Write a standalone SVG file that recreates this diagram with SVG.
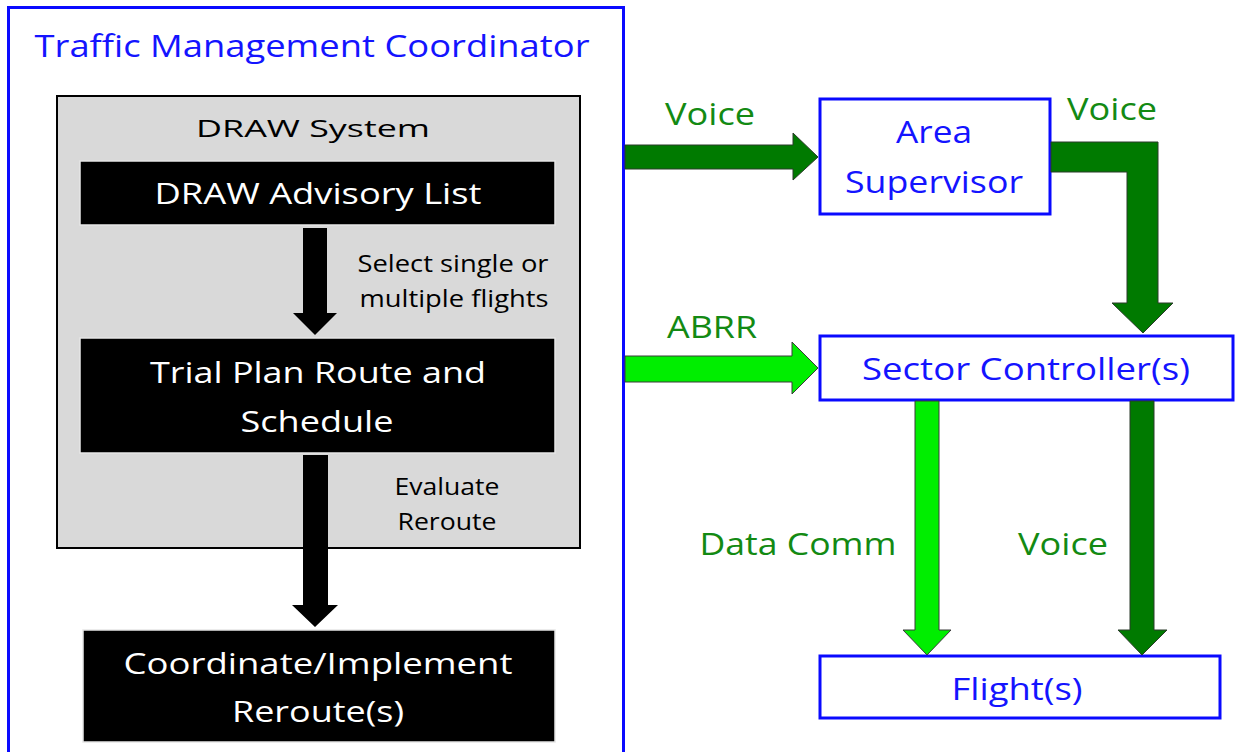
<svg xmlns="http://www.w3.org/2000/svg" width="1235" height="752" viewBox="0 0 1235 752">
  <style>
    text { font-family: "Open Sans", "Liberation Sans", sans-serif; }
    .blue-box { fill: #ffffff; stroke: #0a0aff; stroke-width: 3; }
    .blue-txt { fill: #1414ff; font-size: 31px; text-anchor: middle; }
    .dark-box { fill: #000000; stroke: #e6e6e6; stroke-width: 1.5; }
    .white-txt { fill: #ffffff; font-size: 30px; text-anchor: middle; }
    .note { fill: #000000; font-size: 23px; text-anchor: middle; }
    .green-txt { fill: #138a13; font-size: 31px; text-anchor: middle; }
    .arrow-black { fill: #000000; }
    .arrow-dark { fill: #007a00; stroke: #2a3a2a; stroke-width: 1; }
    .arrow-light { fill: #00ee00; stroke: #3a3a3a; stroke-width: 1; }
  </style>

  <rect width="1235" height="752" fill="#ffffff"/>

  <!-- Traffic Management Coordinator container -->
  <g id="tmc">
    <rect class="blue-box" x="8.5" y="7.5" width="615" height="760"/>
    <text class="blue-txt" x="312" y="57" font-size="33" textLength="555" lengthAdjust="spacingAndGlyphs">Traffic Management Coordinator</text>
  </g>

  <!-- DRAW System panel -->
  <g id="draw-system">
    <rect x="57" y="96" width="523" height="452" fill="#d9d9d9" stroke="#000000" stroke-width="2"/>
    <text class="note" x="313" y="137" font-size="29" textLength="234" lengthAdjust="spacingAndGlyphs">DRAW System</text>
  </g>

  <g id="advisory-list">
    <rect class="dark-box" x="80" y="161" width="475" height="64"/>
    <text class="white-txt" x="318" y="204" textLength="327" lengthAdjust="spacingAndGlyphs">DRAW Advisory List</text>
  </g>

  <g id="trial-plan">
    <rect class="dark-box" x="80" y="338" width="475" height="115"/>
    <text class="white-txt" x="318" y="383" textLength="336" lengthAdjust="spacingAndGlyphs">Trial Plan Route and</text>
    <text class="white-txt" x="317" y="432" textLength="153" lengthAdjust="spacingAndGlyphs">Schedule</text>
  </g>

  <g id="coordinate">
    <rect class="dark-box" x="83" y="630" width="472" height="112"/>
    <text class="white-txt" x="318" y="674" textLength="389" lengthAdjust="spacingAndGlyphs">Coordinate/Implement</text>
    <text class="white-txt" x="318" y="722" textLength="172" lengthAdjust="spacingAndGlyphs">Reroute(s)</text>
  </g>

  <g id="area-supervisor">
    <rect class="blue-box" x="820" y="99" width="230" height="115"/>
    <text class="blue-txt" x="934" y="143" textLength="76" lengthAdjust="spacingAndGlyphs">Area</text>
    <text class="blue-txt" x="934" y="193" textLength="178" lengthAdjust="spacingAndGlyphs">Supervisor</text>
  </g>

  <g id="sector-controller">
    <rect class="blue-box" x="820" y="336" width="413" height="64"/>
    <text class="blue-txt" x="1026" y="380" textLength="328" lengthAdjust="spacingAndGlyphs">Sector Controller(s)</text>
  </g>

  <g id="flights">
    <rect class="blue-box" x="820" y="656" width="400" height="62"/>
    <text class="blue-txt" x="1017" y="700" textLength="131" lengthAdjust="spacingAndGlyphs">Flight(s)</text>
  </g>

  <!-- Connectors -->
  <g id="connectors">
    <!-- advisory list to trial plan -->
    <polygon class="arrow-black" points="303,228 327,228 327,313 337,313 315,335 293,313 303,313"/>
    <text class="note" x="453" y="272" textLength="191" lengthAdjust="spacingAndGlyphs">Select single or</text>
    <text class="note" x="454" y="307" textLength="189" lengthAdjust="spacingAndGlyphs">multiple flights</text>

    <!-- trial plan to coordinate -->
    <polygon class="arrow-black" points="303,455 328,455 328,605 338,605 315,627 292,605 303,605"/>
    <text class="note" x="447" y="495" textLength="105" lengthAdjust="spacingAndGlyphs">Evaluate</text>
    <text class="note" x="447" y="530" textLength="99" lengthAdjust="spacingAndGlyphs">Reroute</text>

    <!-- voice: coordinator to area supervisor -->
    <polygon class="arrow-dark" points="625,145 793,145 793,133 818,157 793,180 793,169 625,169"/>
    <text class="green-txt" x="710" y="125" textLength="90" lengthAdjust="spacingAndGlyphs">Voice</text>

    <!-- voice: area supervisor to sector controller -->
    <polygon class="arrow-dark" points="1051,142 1158,142 1158,303 1173,303 1143,333 1112,303 1127,303 1127,172 1051,172"/>
    <text class="green-txt" x="1112" y="120" textLength="90" lengthAdjust="spacingAndGlyphs">Voice</text>

    <!-- ABRR: coordinator to sector controller -->
    <polygon class="arrow-light" points="625,356 792,356 792,342 818,368 792,394 792,382 625,382"/>
    <text class="green-txt" x="712" y="338" textLength="90" lengthAdjust="spacingAndGlyphs">ABRR</text>

    <!-- data comm: sector controller to flights -->
    <polygon class="arrow-light" points="915,401 939,401 939,630 951,630 927,655 903,630 915,630"/>
    <text class="green-txt" x="798" y="555" textLength="197" lengthAdjust="spacingAndGlyphs">Data Comm</text>

    <!-- voice: sector controller to flights -->
    <polygon class="arrow-dark" points="1130,401 1154,401 1154,630 1167,630 1142,655 1118,630 1130,630"/>
    <text class="green-txt" x="1063" y="555" textLength="90" lengthAdjust="spacingAndGlyphs">Voice</text>
  </g>
</svg>
